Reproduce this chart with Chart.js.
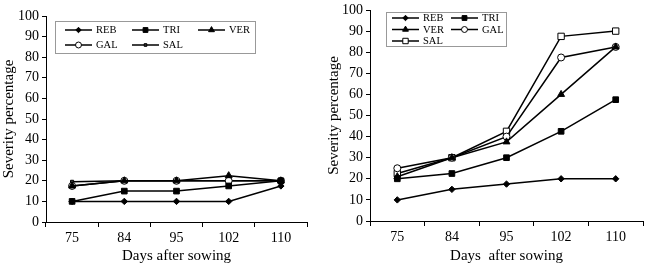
<!DOCTYPE html>
<html>
<head>
<meta charset="utf-8">
<script src="https://cdn.jsdelivr.net/npm/chart.js@4/dist/chart.umd.min.js"></script>
<style>
  html, body { margin: 0; padding: 0; background: #fff; }
  .box { position: absolute; top: 0; width: 325px; height: 276px; }
</style>
</head>
<body>
<div class="box" style="left:0"><canvas id="chartLeft"></canvas></div>
<div class="box" style="left:325px"><canvas id="chartRight"></canvas></div>
<script>
// x categories (days after sowing)
const days = ['75', '84', '95', '102', '110'];
const names = ['REB', 'TRI', 'VER', 'GAL', 'SAL'];

// left panel
const leftREB = [10, 10, 10, 10, 17.5];
const leftTRI = [10, 15, 15, 17.5, 20];
const leftVER = [17.5, 20, 20, 22.5, 20];
const leftGAL = [17.5, 20, 20, 20, 20];
const leftSAL = [19.5, 20, 20, 20, 20];

// right panel
const rightREB = [10, 15, 17.5, 20, 20];
const rightTRI = [20, 22.5, 30, 42.5, 57.5];
const rightVER = [21, 30, 37.5, 60, 82.5];
const rightGAL = [25, 30, 40, 77.5, 82.5];
const rightSAL = [22.5, 30, 42.5, 87.5, 90];

const yTicks = [0, 10, 20, 30, 40, 50, 60, 70, 80, 90, 100];

const serif = 'Liberation Serif, Times New Roman, serif';

// marker looks per series
function markerStyles(salOpen) {
    return [
        { pointStyle: 'rectRot', pointRadius: 3.2, pointBackgroundColor: '#000' },
        { pointStyle: 'rect', pointRadius: 4, pointBackgroundColor: '#000' },
        { pointStyle: 'triangle', pointRadius: 4, pointBackgroundColor: '#000' },
        { pointStyle: 'circle', pointRadius: 3.5, pointBackgroundColor: '#fff' },
        salOpen
            ? { pointStyle: 'rect', pointRadius: 4.5, pointBackgroundColor: '#fff' }
            : { pointStyle: 'rect', pointRadius: 2.2, pointBackgroundColor: '#333' }
    ];
}

function makeDatasets(values, salOpen) {
    const st = markerStyles(salOpen);
    return values.map(function(v, i) {
        return Object.assign({
            label: names[i],
            data: v,
            borderColor: '#000',
            borderWidth: 1.5,
            pointBorderColor: '#000',
            pointBorderWidth: 1,
            tension: 0,
            clip: false
        }, st[i]);
    });
}

// legend box drawn inside the plot, reads labels/markers from the datasets
const boxLegend = {
    id: 'boxLegend',
    afterDraw(chart, args, opts) {
        const ctx = chart.ctx;
        ctx.save();
        ctx.strokeStyle = '#999';
        ctx.lineWidth = 1;
        ctx.strokeRect(opts.x + 0.5, opts.y + 0.5, opts.w, opts.h);
        ctx.font = '10.5px ' + serif;
        ctx.textBaseline = 'middle';
        ctx.fillStyle = '#000';
        chart.data.datasets.forEach(function(ds, i) {
            const col = i % opts.cols;
            const row = Math.floor(i / opts.cols);
            const lx = opts.colX[col];
            const ly = opts.rowY[row];
            ctx.strokeStyle = '#000';
            ctx.lineWidth = 1.5;
            ctx.beginPath();
            ctx.moveTo(lx, ly);
            ctx.lineTo(lx + 27, ly);
            ctx.stroke();
            ctx.fillStyle = ds.pointBackgroundColor;
            ctx.lineWidth = 1;
            Chart.helpers.drawPoint(ctx, {
                pointStyle: ds.pointStyle,
                radius: ds.pointRadius * 0.85,
                rotation: 0,
                borderWidth: 1
            }, lx + 13.5, ly);
            ctx.fillStyle = '#000';
            ctx.fillText(ds.label, lx + 31, ly + 0.5);
        });
        ctx.restore();
    }
};

function makeConfig(values, salOpen, pad, yWidth, xHeight, xTitle, legendOpts) {
    return {
        type: 'line',
        data: { labels: days, datasets: makeDatasets(values, salOpen) },
        plugins: [boxLegend],
        options: {
            responsive: false,
            animation: false,
            layout: { padding: pad },
            plugins: {
                legend: { display: false },
                tooltip: { enabled: false },
                boxLegend: legendOpts
            },
            scales: {
                x: {
                    offset: true,
                    grid: {
                        offset: true,
                        drawOnChartArea: false,
                        drawTicks: true,
                        tickLength: 5,
                        color: '#000'
                    },
                    border: { display: true, color: '#000', width: 1 },
                    ticks: { color: '#000', padding: 3, font: { family: serif, size: 14 } },
                    title: {
                        display: true,
                        text: xTitle,
                        color: '#000',
                        font: { family: serif, size: 15 },
                        padding: { top: 0, bottom: 11 }
                    },
                    afterFit: function(scale) { scale.height = xHeight; }
                },
                y: {
                    min: 0,
                    max: 100,
                    afterBuildTicks: function(scale) {
                        scale.ticks = yTicks.map(function(v) { return { value: v }; });
                    },
                    grid: {
                        drawOnChartArea: false,
                        drawTicks: true,
                        tickLength: 4,
                        color: '#000'
                    },
                    border: { display: true, color: '#000', width: 1 },
                    ticks: { color: '#000', padding: 3, font: { family: serif, size: 14, lineHeight: 1 } },
                    title: {
                        display: true,
                        text: 'Severity percentage',
                        color: '#000',
                        font: { family: serif, size: 15 },
                        padding: 0
                    },
                    afterFit: function(scale) { scale.width = yWidth; }
                }
            }
        }
    };
}

function setSize(canvas) {
    canvas.width = canvas.parentElement.clientWidth;
    canvas.height = canvas.parentElement.clientHeight;
}

var c1 = document.getElementById('chartLeft');
setSize(c1);
new Chart(c1, makeConfig(
    [leftREB, leftTRI, leftVER, leftGAL, leftSAL], false,
    { left: 0, right: 18, top: 16, bottom: 0 }, 46, 54, 'Days after sowing',
    { x: 55, y: 21, w: 200, h: 32, cols: 3, colX: [65, 132, 198], rowY: [30, 45] }
));

var c2 = document.getElementById('chartRight');
setSize(c2);
new Chart(c2, makeConfig(
    [rightREB, rightTRI, rightVER, rightGAL, rightSAL], true,
    { left: 0, right: 7, top: 7, bottom: 0 }, 45, 55, 'Days  after sowing',
    { x: 61, y: 12, w: 120, h: 34, cols: 2, colX: [67, 126], rowY: [18, 29.5, 41] }
));
</script>
</body>
</html>
